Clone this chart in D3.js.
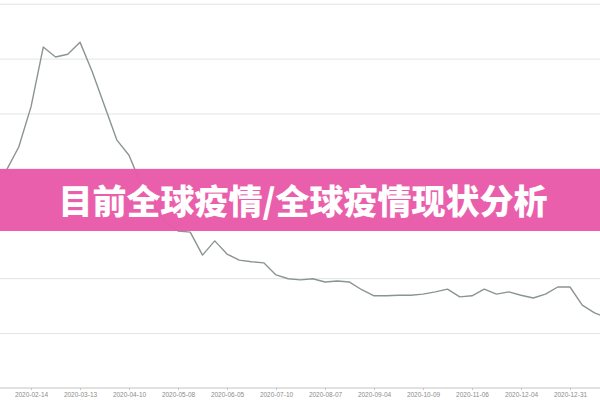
<!DOCTYPE html>
<html>
<head>
<meta charset="utf-8">
<script src="https://cdn.jsdelivr.net/npm/d3@7"></script>
<style>
  html, body { margin: 0; padding: 0; background: #ffffff; }
  svg { display: block; }
</style>
</head>
<body>
<svg id="chart" width="600" height="400"></svg>
<script>
// ---- data (weekly points, index 0 = first labelled date) ----
const pointIndex = [-3,-2,-1,0,1,2,3,4,5,6,7,8,9,10,11,12,13,14,15,16,17,18,19,20,21,22,23,24,25,26,27,28,29,30,31,32,33,34,35,36,37,38,39,40,41,42,43,44,45,46,47];
const seriesValues = [38.6,39.7,43.9,51.2,62.1,60.3,60.8,63.0,57.6,51.4,45.2,42.4,37.0,33.3,30.2,28.6,28.4,24.2,26.8,24.4,23.3,23.0,22.8,20.6,19.9,19.7,19.9,19.3,19.5,19.3,17.9,16.8,16.8,16.9,16.9,17.1,17.5,18.0,16.6,16.8,18.0,17.1,17.5,16.9,16.4,17.1,18.4,18.4,15.1,13.7,12.8];
const tickIndex = [0,4,8,12,16,20,24,28,32,36,40,44];
const tickLabels = ["2020-02-14","2020-03-13","2020-04-10","2020-05-08","2020-06-05","2020-07-10","2020-08-07","2020-09-04","2020-10-09","2020-11-06","2020-12-04","2020-12-31"];
const yTicks = [10,20,30,40,50,60,70];
const bannerTitle = "目前全球疫情/全球疫情现状分析";

const svg = d3.select("#chart");
const W = 600, H = 400;

const x = d3.scaleLinear().domain([0, 44]).range([31, 570]);
const y = d3.scaleLinear().domain([0, 70]).range([388, 3.7]);

svg.append("defs").append("clipPath").attr("id", "clip")
  .append("rect").attr("x", 0).attr("y", 0).attr("width", W).attr("height", H);

const g = svg.append("g").attr("clip-path", "url(#clip)");

// gridlines
g.append("g")
  .call(d3.axisLeft(y).tickValues(yTicks).tickSize(-W).tickFormat(""))
  .attr("transform", "translate(0,0)")
  .call(s => s.select(".domain").remove())
  .call(s => s.selectAll(".tick line").attr("stroke", "#e3e3e3").attr("stroke-width", 1));

// x axis
const xAxis = g.append("g")
  .attr("transform", `translate(0,${y(0)})`)
  .call(d3.axisBottom(x).tickValues(tickIndex).tickFormat((d, i) => tickLabels[i]).tickSize(2).tickPadding(2));
xAxis.select(".domain").attr("d", `M0,0H${W}`).attr("stroke", "#c4c4c4").attr("stroke-width", 1.2);
xAxis.selectAll(".tick line").attr("stroke", "#c4c4c4");
xAxis.selectAll(".tick text")
  .attr("fill", "#8c8c8c")
  .style("font-family", "'Liberation Sans', 'DejaVu Sans', sans-serif")
  .style("font-size", "6.5px");

// line
const data = pointIndex.map((d, i) => ({ i: d, v: seriesValues[i] }));
const line = d3.line().x(d => x(d.i)).y(d => y(d.v));
g.append("path")
  .datum(data)
  .attr("d", line)
  .attr("fill", "none")
  .attr("stroke", "#8b9494")
  .attr("stroke-width", 1.4)
  .attr("stroke-linejoin", "round");

// banner
svg.append("rect")
  .attr("x", 0).attr("y", 169).attr("width", W).attr("height", 62)
  .attr("fill", "#e95aa9").attr("fill-opacity", 0.97);
svg.append("text")
  .attr("x", 303).attr("y", 214)
  .attr("text-anchor", "middle")
  .attr("fill", "#ffffff")
  .style("font-family", "'Noto Sans CJK SC', 'Noto Sans', sans-serif")
  .style("font-weight", "900")
  .style("font-size", "34px")
  .text(bannerTitle);
</script>
</body>
</html>
